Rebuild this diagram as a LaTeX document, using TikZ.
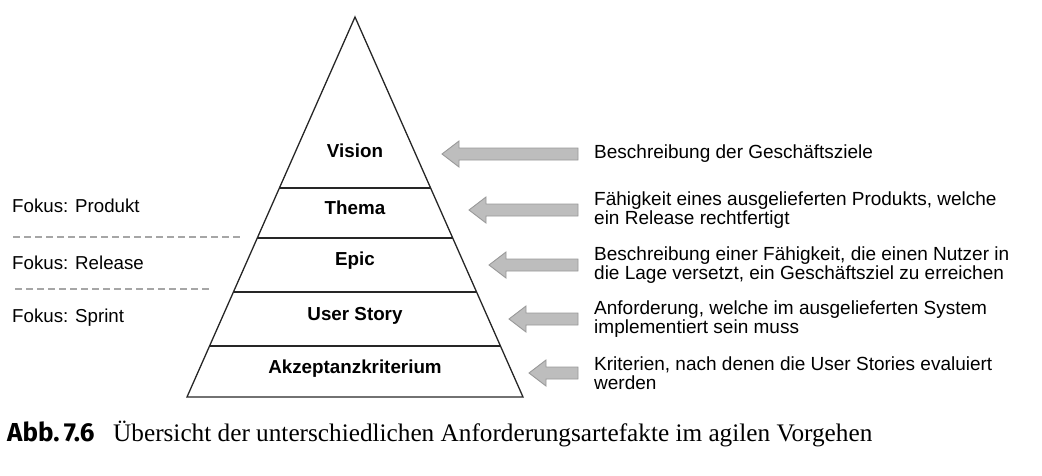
\documentclass[tikz,border=0pt]{standalone}
\usepackage{fontspec}
\setmainfont{Liberation Sans}
\newfontfamily\capserif{Liberation Serif}
\newfontfamily\capsans{Fira Sans}
\usetikzlibrary{calc}
\newcommand\blockarrow[2]{%
  \draw[barrow] (#1) -- ($(#1)+(17,-13)$) -- ($(#1)+(17,-6)$) -- ($(#2)+(0,-6)$)
    -- ($(#2)+(0,6)$) -- ($(#1)+(17,6)$) -- ($(#1)+(17,13)$) -- cycle;}
\begin{document}
\begin{tikzpicture}[x=1pt,y=-1pt,
  base/.style={font=\fontsize{19}{19}\selectfont, inner sep=0pt},
  lvl/.style={base, font=\fontsize{18.8}{19}\selectfont\bfseries},
  desc/.style={base, align=left, anchor=west},
  fokus/.style={base, font=\fontsize{18.7}{19}\selectfont, anchor=west},
  pyr/.style={line width=1.3pt, draw=black!85, line join=miter},
  sepline/.style={line width=1.2pt, draw=black!35, dash pattern=on 7pt off 4pt},
  barrow/.style={fill=black!26, draw=black!40, line width=0.9pt, line join=miter}
]
\useasboundingbox (0,0) rectangle (1042,475);
% pyramid
\coordinate (A) at (355,17);
\coordinate (BL) at (187,397);
\coordinate (BR) at (523,397);
\draw[pyr] (A) -- (BL) -- (BR) -- cycle;
\foreach \t [count=\i] in {0.45,0.5816,0.7237,0.8658}{
  \coordinate (L\i) at ($(A)!\t!(BL)$);
  \coordinate (R\i) at ($(A)!\t!(BR)$);
  \draw[pyr] (L\i) -- (R\i);
}
% level labels
\node[lvl] (vision) at (355,151) {Vision};
\node[lvl] (thema) at (355,208) {Thema};
\node[lvl] (epic) at (355,261) {Epic};
\node[lvl] (story) at (355,316) {User Story};
\node[lvl] (akz) at (355,369) {Akzeptanzkriterium};
% descriptions
\node[desc] (dV) at (594,154) {Beschreibung der Geschäftsziele};
\node[desc] (dT) at (594,210) {Fähigkeit eines ausgelieferten Produkts, welche\\ein Release rechtfertigt};
\node[desc] (dE) at (594,265) {Beschreibung einer Fähigkeit, die einen Nutzer in\\die Lage versetzt, ein Geschäftsziel zu erreichen};
\node[desc] (dU) at (594,319) {Anforderung, welche im ausgelieferten System\\implementiert sein muss};
\node[desc] (dK) at (594,373) {Kriterien, nach denen die User Stories evaluiert\\werden};
% arrows
\coordinate (tV) at (442,154);
\coordinate (tT) at (469,210);
\coordinate (tE) at (489,265);
\coordinate (tU) at (509,319);
\coordinate (tK) at (529,373);
\foreach \d/\tp in {dV/tV,dT/tT,dE/tE,dU/tU,dK/tK}{
  \coordinate (tail) at ($(\d.west)+(-16,0)$);
  \blockarrow{\tp}{tail}
}
% focus labels
\node[fokus] (fP) at (12,206) {Fokus: Produkt};
\node[fokus] (fR) at (12,263) {Fokus: Release};
\node[fokus] (fS) at (12,318) {Fokus: Sprint};
\coordinate (s1a) at (13,237);
\coordinate (s1b) at (240,237);
\coordinate (s2a) at (15,289);
\coordinate (s2b) at (212,289);
\draw[sepline] (s1a) -- (s1b);
\draw[sepline] (s2a) -- (s2b);
% caption
\node[inner sep=0pt, anchor=base west, font=\capsans\bfseries\fontsize{26}{28}\selectfont] (capA) at (7,441) {Abb.\,7.6};
\node[inner sep=0pt, anchor=base west, font=\capserif\fontsize{25.25}{27}\selectfont] (capB) at (113,441) {Übersicht der unterschiedlichen Anforderungsartefakte im agilen Vorgehen};
\end{tikzpicture}
\end{document}
